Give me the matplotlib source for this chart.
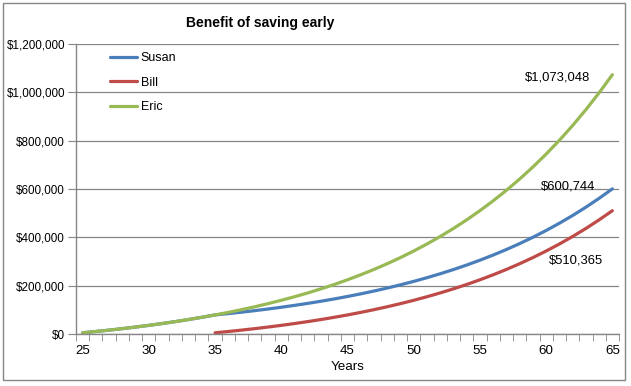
import matplotlib
matplotlib.use('Agg')
import matplotlib.pyplot as plt
from matplotlib.patches import Rectangle
import numpy as np

plt.rcParams['font.family'] = ['Liberation Sans', 'DejaVu Sans']

# ages on the x axis
ages = list(range(25, 66))
bill_ages = list(range(35, 66))

# account values
eric = [5000, 10350, 16075, 22200, 28754, 35766, 43270, 51299, 59890, 69082,
        78918, 89442, 100703, 112752, 125645, 139440, 154201, 169995, 186895, 204977,
        224326, 245029, 267181, 290883, 316245, 343382, 372419, 403489, 436733, 472304,
        510365, 551091, 594667, 641294, 691184, 744567, 801687, 862805, 928201, 998176,
        1073048]
susan = [5000, 10350, 16075, 22200, 28754, 35766, 43270, 51299, 59890, 69082,
         78918, 84442, 90353, 96678, 103445, 110687, 118435, 126725, 135596, 145088,
         155244, 166111, 177738, 190180, 203493, 217737, 232979, 249287, 266737, 285409,
         305388, 326765, 349639, 374113, 400301, 428322, 458305, 490386, 524713, 561442,
         600744]
bill = [5000, 10350, 16075, 22200, 28754, 35766, 43270, 51299, 59890, 69082,
        78918, 89442, 100703, 112752, 125645, 139440, 154201, 169995, 186895, 204977,
        224326, 245029, 267181, 290883, 316245, 343382, 372419, 403489, 436733, 472304,
        510365]

end_labels = ['$1,073,048', '$600,744', '$510,365']

gray = '#868686'
c_susan = '#4A7EBB'
c_bill = '#BE4B48'
c_eric = '#98B954'

fig = plt.figure(figsize=(6.31, 3.86), dpi=100, facecolor='white')
ax = fig.add_axes([76/631, 1-334/386, 543/631, 290/386])

ax.plot(ages, susan, color=c_susan, lw=2.3, label='Susan', solid_capstyle='round')
ax.plot(bill_ages, bill, color=c_bill, lw=2.3, label='Bill', solid_capstyle='round')
ax.plot(ages, eric, color=c_eric, lw=2.3, label='Eric', solid_capstyle='round')

ax.set_xlim(24.5, 65.5)
ax.set_ylim(0, 1200000)
ax.set_xticks(np.arange(25, 66, 5))
ax.set_xticks(np.arange(24.5, 65.6, 1), minor=True)
ax.tick_params(axis='x', which='major', length=0, labelsize=9.6, pad=8)
ax.tick_params(axis='x', which='minor', length=5, color=gray, direction='out')
ax.set_yticks(np.arange(0, 1200001, 200000))
ax.set_yticklabels(['$0', '$200,000', '$400,000', '$600,000', '$800,000',
                    '$1,000,000', '$1,200,000'])
ax.tick_params(axis='y', length=6, color=gray, labelsize=8.4, pad=2)
ax.yaxis.grid(True, color=gray, lw=0.9)
ax.set_axisbelow(True)
for s in ['top', 'right']:
    ax.spines[s].set_visible(False)
for s in ['left', 'bottom']:
    ax.spines[s].set_color(gray)
    ax.spines[s].set_linewidth(1.0)
ax.set_xlabel('Years', fontsize=9.6, va='center')
ax.xaxis.set_label_coords(0.5, -33/290)

ax.text(60.83, 1063000, end_labels[0], ha='center', va='center', fontsize=9.4)
ax.text(61.66, 612000, end_labels[1], ha='center', va='center', fontsize=9.4)
ax.text(62.26, 306000, end_labels[2], ha='center', va='center', fontsize=9.4)

leg = ax.legend(loc='upper left', bbox_to_anchor=(0.0626, 0.972), frameon=False,
                fontsize=9, handlelength=2.2, handletextpad=0.25, labelspacing=1.0,
                borderpad=0, borderaxespad=0)

fig.text(260/631, 1-23/386, 'Benefit of saving early', ha='center', va='center',
         fontsize=10, fontweight='bold')

fig.patches.append(Rectangle((3/631, 1-380/386), 622/631, 377/386,
                             transform=fig.transFigure, fill=False,
                             edgecolor=gray, lw=1.0))

fig.savefig('out.png', dpi=100, facecolor='white')
